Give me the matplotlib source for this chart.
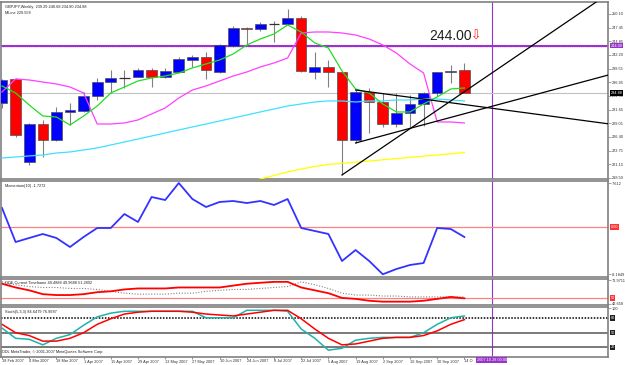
import matplotlib.pyplot as plt
from matplotlib.transforms import blended_transform_factory as blend
import numpy as np

plt.rcParams['font.family'] = ['Liberation Sans', 'DejaVu Sans']

W, H = 625, 365

# GBPJPY weekly bars, 18 Feb 2007 .. 7 Oct 2007
opens = [232.95, 237.58, 221.58, 228.90, 225.82, 231.22, 231.41, 234.30, 236.99, 237.77,
         237.96, 239.31, 237.96, 238.92, 241.24, 241.81, 238.92, 243.93, 247.40, 247.21,
         248.17, 248.17, 249.33, 238.92, 239.89, 238.92, 225.82, 235.07, 233.14, 228.90,
         231.02, 232.76, 234.88, 238.92, 239.29]
highs = [237.60, 237.80, 229.10, 229.68, 232.18, 232.95, 235.07, 237.77, 239.31, 239.31,
         239.70, 239.70, 239.70, 241.81, 242.20, 242.78, 244.30, 247.78, 247.60, 248.55,
         248.75, 251.05, 249.70, 242.78, 241.24, 238.95, 235.45, 235.84, 234.88, 234.88,
         234.50, 235.10, 238.95, 240.28, 240.68]
lows = [232.00, 226.40, 221.00, 222.54, 225.60, 228.71, 231.20, 233.53, 234.88, 235.90,
        237.90, 236.03, 237.77, 238.70, 239.89, 237.58, 238.70, 243.80, 243.93, 246.80,
        244.70, 248.00, 238.90, 237.58, 236.03, 219.08, 225.24, 227.17, 228.33, 228.33,
        228.33, 228.60, 234.30, 236.80, 234.80]
closes = [237.38, 226.78, 228.90, 225.82, 231.22, 231.60, 234.30, 236.99, 237.77, 237.80,
          239.31, 237.96, 239.12, 241.43, 241.81, 239.31, 244.13, 247.40, 247.21, 248.17,
          248.20, 249.33, 239.12, 239.89, 238.92, 225.82, 235.07, 233.14, 228.90, 231.02,
          232.76, 234.88, 238.92, 239.12, 234.88]

ma_fast = [236.23, 234.88, 232.56, 230.44, 230.25, 228.71, 230.44, 232.37, 234.88, 236.03,
           237.19, 237.77, 238.15, 238.73, 239.70, 240.47, 241.24, 242.39, 244.13, 245.28,
           246.25, 247.98, 246.63, 244.51, 243.55, 239.12, 235.65, 234.88, 232.76, 231.22,
           231.22, 232.76, 234.11, 235.65, 235.84]
ma_shift = [235.07, 237.58, 237.38, 236.99, 236.61, 236.03, 234.88, 228.90, 228.90, 229.10,
            229.68, 230.83, 231.99, 233.91, 235.45, 236.23, 237.19, 238.15, 238.92, 239.89,
            240.66, 241.62, 246.44, 246.63, 246.63, 246.44, 246.05, 245.28, 244.13, 242.58,
            240.47, 238.73, 229.29, 229.29, 229.10]
ma_mid = [222.35, 222.54, 222.74, 222.93, 223.31, 223.51, 223.89, 224.28, 224.86, 225.43,
          226.01, 226.59, 227.17, 227.75, 228.33, 228.90, 229.48, 230.06, 230.64, 231.22,
          231.79, 232.37, 232.76, 233.14, 233.34, 233.34, 233.14, 233.34, 233.34, 233.53,
          233.53, 233.72, 233.72, 233.53, 233.34]
ma_slow = [np.nan] * 18 + [217.73, 218.30, 218.98, 219.65, 220.23, 220.71, 221.10, 221.33,
                           221.54, 221.77, 222.00, 222.24, 222.47, 222.70, 222.93, 223.16,
                           223.39]

momentum = [3.29, -2.60, -1.90, -1.21, -1.90, -3.46, -1.73, -0.17, -0.17, 2.25,
            0.87, 5.19, 4.67, 7.61, 4.84, 3.46, 4.33, 4.50, 4.15, 4.50,
            3.81, 4.84, -0.17, -0.69, -1.21, -5.88, -3.98, -5.88, -8.18, -7.27,
            -6.57, -6.23, -0.17, -0.35, -1.73]

qqe_rsi = [67.4, 62.8, 59.3, 54.6, 53.5, 53.5, 54.6, 57.0, 58.1, 60.4,
           61.6, 61.6, 61.6, 62.8, 62.8, 62.8, 62.8, 65.1, 67.4, 68.6,
           69.7, 69.7, 62.8, 59.3, 55.8, 50.0, 48.8, 46.5, 45.4, 45.4,
           45.4, 46.5, 48.8, 51.2, 49.5]
qqe_trail = [69.7, 66.2, 63.9, 62.8, 62.8, 61.6, 61.6, 60.4, 58.1, 55.8,
             54.6, 54.6, 54.6, 55.8, 55.8, 58.1, 59.3, 60.4, 60.4, 61.6,
             62.8, 63.9, 69.7, 66.2, 61.6, 55.8, 53.5, 53.5, 52.3, 52.3,
             51.2, 51.2, 51.2, 51.2, 51.2]

stoch_k = [59.6, 38.5, 36.5, 25.0, 38.5, 46.2, 65.4, 82.7, 90.4, 94.2,
           94.2, 94.2, 94.2, 94.2, 94.2, 80.8, 80.8, 80.8, 96.2, 96.2,
           96.2, 94.2, 57.7, 38.5, 14.0, 18.0, 34.6, 38.5, 40.4, 40.4,
           40.4, 50.0, 67.3, 80.8, 84.6]
stoch_d = [67.3, 50.0, 44.2, 32.7, 32.7, 38.5, 50.0, 67.3, 78.8, 88.5,
           92.3, 94.2, 94.2, 94.2, 92.3, 88.5, 86.5, 84.6, 88.5, 92.3,
           96.2, 96.2, 78.8, 57.7, 38.5, 25.0, 26.9, 32.7, 38.5, 40.4,
           40.4, 44.2, 53.8, 67.3, 77.0]

# last label is hidden behind the date marker in the terminal, only "14 O" shows
date_labels = ['18 Feb 2007', '4 Mar 2007', '18 Mar 2007', '1 Apr 2007', '15 Apr 2007',
               '29 Apr 2007', '13 May 2007', '27 May 2007', '10 Jun 2007', '24 Jun 2007',
               '8 Jul 2007', '22 Jul 2007', '5 Aug 2007', '19 Aug 2007', '2 Sep 2007',
               '16 Sep 2007', '30 Sep 2007', '14 O']
price_ticks = [250.10, 247.45, 244.85, 242.20, 239.55, 236.95, 234.30, 231.65,
               229.05, 226.40, 223.75, 221.15, 218.50]

# hand drawn objects (bar index, price)
level = 244.00
trend_lines = [((25, 219.08), (37.35, 241.10)),
               ((26, 225.24), (36.0, 232.29)),
               ((26, 235.45), (40.0, 230.54))]
marker_bar = 36
marker_text = '2007.10.28 00:00'

bar = np.arange(len(opens))
o, h, l, c = map(np.array, (opens, highs, lows, closes))
x0, x1 = -0.074, 44.56
purple = '#9933CC'
small = 2.8


def place(left, top, right, bottom):
    return [left / W, 1 - bottom / H, (right - left) / W, (bottom - top) / H]


def frame(a):
    a.set_xlim(x0, x1)
    for s in a.spines.values():
        s.set_color('#808080')
        s.set_linewidth(1.2)
    a.yaxis.tick_right()
    a.tick_params(axis='y', length=2, width=0.5, colors='#808080',
                  labelcolor='#303030', labelsize=small, pad=0.8)
    a.tick_params(axis='x', bottom=False, labelbottom=False)
    a.axvline(marker_bar, color=purple, lw=0.8, zorder=1)


def tag(a, val, txt, fc):
    a.text(1.004, val, txt, transform=blend(a.transAxes, a.transData), ha='left',
           va='center', fontsize=small, color='white', clip_on=False, zorder=6,
           bbox=dict(fc=fc, ec='none', pad=0.5))


fig = plt.figure(figsize=(W / 100, H / 100), dpi=100)
ax = fig.add_axes(place(1, 2, 608, 179))
ax_mom = fig.add_axes(place(1, 181, 608, 277))
ax_qqe = fig.add_axes(place(1, 279, 608, 305))
ax_st = fig.add_axes(place(1, 307, 608, 357))

# ---- main price window
frame(ax)
ax.set_ylim(218.30, 252.41)
ax.set_yticks(price_ticks)
ax.set_yticklabels(['%.2f' % p for p in price_ticks])
ax.axhline(c[-1], color='#C0C0C0', lw=0.8, zorder=1)
ax.axhline(level, color=purple, lw=1.5, zorder=1)
ax.axhline(level - 0.3, color='#D8A8FF', lw=0.5, ls=':', zorder=1)

ax.vlines(bar, l, h, color='#808080', lw=0.8, zorder=2)
doji = np.abs(c - o) < 0.1
body = ~doji
ax.bar(bar[body], (c - o)[body], bottom=o[body], width=0.78,
       color=np.where(c >= o, '#0000FF', '#FF0000')[body],
       edgecolor='#505050', linewidth=0.5, zorder=3)
ax.hlines(c[doji], bar[doji] - 0.39, bar[doji] + 0.39, color='#303030', lw=0.9, zorder=3)

ax.plot(bar, ma_mid, color='#3FE0FF', lw=0.9, zorder=4)
ax.plot(bar, ma_slow, color='#FFFF00', lw=0.9, zorder=4)
ax.plot(bar, ma_shift, color='#FF40FF', lw=0.9, zorder=4)
ax.plot(bar, ma_fast, color='#22DD22', lw=0.9, zorder=4)

for (ax_, ay), (bx, by) in trend_lines:
    slope = (by - ay) / (bx - ax_)
    ax.plot([ax_, x1], [ay, ay + slope * (x1 - ax_)], color='black', lw=0.9, zorder=5)

ax.text(33.0, level + 0.6, '%.2f' % level, fontsize=10, color='#202020',
        ha='center', va='bottom', zorder=6)
ax.text(34.85, level + 0.5, '\u21e9', fontsize=9, color='#FF2020', ha='center',
        va='bottom', family='DejaVu Sans', zorder=6)
tag(ax, level, '%.2f' % level, purple)
tag(ax, c[-1], '%.2f' % c[-1], '#000000')
ax.text(0.006, 0.985, 'GBPJPY,Weekly  %.2f %.2f %.2f %.2f' % (o[-1], h[-1], l[-1], c[-1]),
        transform=ax.transAxes, va='top', fontsize=small, color='#202020')
ax.text(0.006, 0.95, 'MLine 229.558', transform=ax.transAxes, va='top',
        fontsize=small, color='#202020')

# ---- momentum
frame(ax_mom)
ax_mom.set_ylim(-8.65, 7.96)
ax_mom.set_yticks([7.612, -8.1849])
ax_mom.set_yticklabels(['7.612', '-8.1849'])
ax_mom.axhline(0, color='#FF8080', lw=0.9)
ax_mom.plot(bar, momentum, color='#3333FF', lw=1.3)
tag(ax_mom, 0, '0.00', '#FF3333')
ax_mom.text(0.006, 0.97, 'Momentum(10) %.4f' % -1.7272, transform=ax_mom.transAxes,
            va='top', fontsize=small, color='#202020')

# ---- QQE
frame(ax_qqe)
ax_qqe.set_ylim(41.3, 73.2)
ax_qqe.set_yticks([71.9711, 42.658])
ax_qqe.set_yticklabels(['71.9711', '42.658'])
ax_qqe.axhline(50, color='#FF8080', lw=0.9)
ax_qqe.plot(bar, qqe_trail, color='#808080', lw=0.8, ls=(0, (1, 1.5)))
ax_qqe.plot(bar, qqe_rsi, color='#FF0000', lw=1.3)
tag(ax_qqe, 50, '50', '#FF3333')
ax_qqe.text(0.006, 0.92, 'QQE Current Timeframe 49.4888 49.9688 51.2802',
            transform=ax_qqe.transAxes, va='top', fontsize=small, color='#202020')

# ---- stochastic
frame(ax_st)
ax_st.set_ylim(0, 103)
ax_st.set_yticks([100])
ax_st.set_yticklabels(['100'])
ax_st.axhline(80, color='black', lw=1.1, ls=(0, (1, 1)))
ax_st.axhline(50, color='#555555', lw=1.1)
ax_st.axhline(20, color='#555555', lw=1.1)
ax_st.plot(bar, stoch_k, color='#20B2AA', lw=1.1)
ax_st.plot(bar, stoch_d, color='#FF0000', lw=1.1)
for lv in (80, 50, 20):
    tag(ax_st, lv, str(lv), '#202020')
ax_st.text(0.006, 0.95, 'Stoch(5,3,3) 84.6479 76.9687', transform=ax_st.transAxes,
           va='top', fontsize=small, color='#202020')

ax_st.tick_params(axis='x', bottom=True, labelbottom=True, length=1.5, width=0.5,
                  colors='#606060', labelcolor='#303030', labelsize=small, pad=0.3)
ax_st.set_xticks(bar[::2])
ax_st.set_xticklabels(date_labels, ha='left')
ax_st.text(marker_bar, -0.02, marker_text, transform=blend(ax_st.transData, ax_st.transAxes),
           ha='center', va='top', fontsize=small, color='white', clip_on=False, zorder=10,
           bbox=dict(fc=purple, ec='none', pad=0.6))

fig.text(2 / W, 1 - 352 / H, 'DDL MetaTrader, \u00a9 2001-2007 MetaQuotes Software Corp.',
         fontsize=small, va='center', color='#202020')

fig.savefig('out.png', dpi=100)
